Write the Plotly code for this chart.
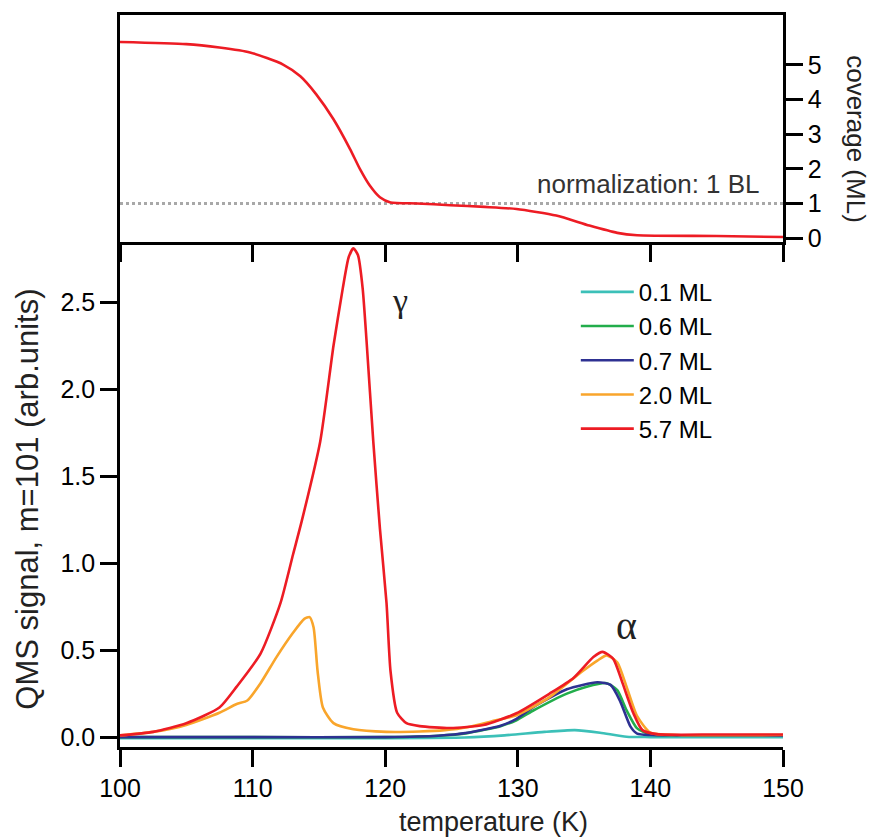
import plotly.graph_objects as go

# temperature (K) and QMS signal for each initial coverage
T_01 = [100, 110, 120, 126, 129, 132, 134.3, 136.2, 138.2, 140, 150]
Q_01 = [-0.007, -0.007, -0.006, -0.002, 0.01, 0.03, 0.04, 0.025, 0.002, 0.0, 0.0]

T_06 = [100, 110, 120, 124, 126.2, 128.7, 129.9, 131.1, 133.7, 135.2, 136.7, 137.5, 138.2, 139.0, 140.0, 142, 150]
Q_06 = [0.0, 0.0, 0.0, 0.008, 0.023, 0.063, 0.097, 0.15, 0.25, 0.29, 0.31, 0.27, 0.155, 0.05, 0.015, 0.01, 0.008]

T_07 = [100, 110, 120, 124, 126.2, 128.7, 129.9, 131.1, 133.7, 136.0, 137.0, 137.7, 138.5, 139.0, 140, 142, 150]
Q_07 = [0.0, 0.0, 0.0, 0.008, 0.025, 0.065, 0.105, 0.17, 0.275, 0.315, 0.30, 0.21, 0.06, 0.02, 0.012, 0.01, 0.008]

T_20 = [100, 102.5, 105, 107.5, 108.8, 109.6, 110.6, 111.8, 113.05, 113.9, 114.3, 114.6, 114.9, 115.3,
        116.1, 117.6, 120.1, 122.6, 124.5, 126.2, 128, 129.9, 132.4, 134.9, 136.0, 136.7, 137.5, 138.2,
        139.0, 140.0, 142, 150]
Q_20 = [0.01, 0.03, 0.07, 0.14, 0.19, 0.21, 0.31, 0.46, 0.60, 0.68, 0.69, 0.63, 0.38, 0.17,
        0.08, 0.045, 0.03, 0.032, 0.04, 0.057, 0.09, 0.126, 0.23, 0.38, 0.44, 0.47, 0.43, 0.29,
        0.12, 0.025, 0.012, 0.012]

T_57 = [100, 102.5, 105, 107.5, 108.8, 110.6, 112.1, 113.05, 113.7, 115.1, 116.1, 116.8, 117.25, 117.6,
        117.95, 118.3, 118.6, 119.1, 119.6, 120.1, 120.4, 120.9, 121.6, 122.6, 124.9, 127.4, 129.9,
        132.4, 134.2, 135.7, 136.4, 137.2, 137.9, 138.7, 139.4, 140.5, 145, 150]
Q_57 = [0.01, 0.03, 0.08, 0.17, 0.29, 0.48, 0.77, 1.05, 1.24, 1.70, 2.25, 2.58, 2.76, 2.81,
        2.77, 2.58, 2.27, 1.70, 1.20, 0.77, 0.38, 0.14, 0.08, 0.063, 0.052, 0.069, 0.137,
        0.25, 0.34, 0.46, 0.49, 0.45, 0.31, 0.14, 0.04, 0.017, 0.015, 0.015]

# remaining coverage of the 5.7 ML run
T_COV = [100, 105, 107.5, 109.8, 112.3, 113.6, 114.8, 116.1, 117.35, 118.1, 118.85, 119.6, 120.4,
         122.4, 124.9, 127.5, 129.9, 132.9, 135.4, 137.5, 139.0, 145, 150]
COV = [5.66, 5.6, 5.5, 5.36, 5.01, 4.67, 4.15, 3.43, 2.57, 1.99, 1.51, 1.18, 1.03,
       1.0, 0.95, 0.9, 0.84, 0.65, 0.36, 0.15, 0.08, 0.06, 0.03]

NORM_LEVEL = 1.0
T_RANGE = [100, 150]

series = [
    ("0.1 ML", T_01, Q_01, "#3cc0b8"),
    ("0.6 ML", T_06, Q_06, "#22ad4b"),
    ("0.7 ML", T_07, Q_07, "#2e3192"),
    ("2.0 ML", T_20, Q_20, "#f9a52b"),
    ("5.7 ML", T_57, Q_57, "#ed1c24"),
]

FONT = "Liberation Sans, Arial, sans-serif"
SERIF = "Liberation Serif, Times New Roman, serif"

fig = go.Figure()
for name, t, q, col in series:
    fig.add_trace(go.Scatter(x=t, y=q, name=name, mode="lines",
                             line=dict(color=col, width=2.6, shape="spline", smoothing=0.6),
                             xaxis="x", yaxis="y"))

fig.add_trace(go.Scatter(x=T_RANGE, y=[NORM_LEVEL, NORM_LEVEL], mode="lines", showlegend=False,
                         line=dict(color="#a8a8a8", width=3, dash="dot"), xaxis="x2", yaxis="y2"))
fig.add_trace(go.Scatter(x=T_COV, y=COV, mode="lines", showlegend=False,
                         line=dict(color="#ed1c24", width=2.6, shape="spline", smoothing=0.6),
                         xaxis="x2", yaxis="y2"))

split = 1 - 228 / 735
axis_common = dict(showgrid=False, zeroline=False, showline=True, linecolor="black", linewidth=2.6,
                   ticks="outside", ticklen=17, tickwidth=2.6, tickcolor="black",
                   tickfont=dict(size=25, color="black", family=FONT))

fig.update_layout(
    width=875, height=839,
    margin=dict(l=112, r=100, t=4, b=100),
    paper_bgcolor="white", plot_bgcolor="white",
    font=dict(family=FONT, color="black"),
    xaxis=dict(domain=[0, 1], range=T_RANGE, anchor="y", tickvals=[100, 110, 120, 130, 140, 150],
               **axis_common),
    yaxis=dict(domain=[0, split], range=[-0.057, 2.846], anchor="x",
               tickvals=[0, 0.5, 1, 1.5, 2, 2.5], ticktext=["0.0", "0.5", "1.0", "1.5", "2.0", "2.5"],
               **axis_common),
    xaxis2=dict(domain=[0, 1], range=T_RANGE, anchor="y2", showticklabels=False, mirror=True,
                tickvals=[100, 110, 120, 130, 140, 150], **axis_common),
    yaxis2=dict(domain=[split, 1], range=[-0.115, 6.44], anchor="x2", side="right", mirror=True,
                tickvals=[0, 1, 2, 3, 4, 5], **axis_common),
    legend=dict(x=0.6875, y=0.652, xanchor="left", yanchor="top", bgcolor="rgba(0,0,0,0)",
                font=dict(size=24, family=FONT), tracegroupgap=0, itemwidth=53),
    showlegend=True,
)

fig.add_annotation(text="γ", x=121.1, y=2.51, xref="x", yref="y", showarrow=False,
                   xanchor="center", yanchor="middle",
                   font=dict(size=34, family=SERIF, color="#222"))
fig.add_annotation(text="α", x=138.2, y=0.64, xref="x", yref="y", showarrow=False,
                   xanchor="center", yanchor="middle",
                   font=dict(size=40, family=SERIF, color="#222"))
fig.add_annotation(text="normalization: 1 BL", x=148.4, y=1.56, xref="x2", yref="y2",
                   xanchor="right", yanchor="middle", showarrow=False,
                   font=dict(size=26, family=FONT, color="#333"))
fig.add_annotation(text="coverage (ML)", x=1.109, y=0.83, xref="paper", yref="paper",
                   xanchor="center", yanchor="middle",
                   textangle=90, showarrow=False, font=dict(size=26, family=FONT, color="#222"))
fig.add_annotation(text="QMS signal, m=101 (arb.units)", x=-0.139, y=0.339, xref="paper", yref="paper",
                   xanchor="center", yanchor="middle",
                   textangle=-90, showarrow=False, font=dict(size=31, family=FONT, color="#222"))
fig.add_annotation(text="temperature (K)", x=0.564, y=-0.103, xref="paper", yref="paper",
                   xanchor="center", yanchor="middle",
                   showarrow=False, font=dict(size=27, family=FONT, color="#222"))

fig.write_html("out.html")
